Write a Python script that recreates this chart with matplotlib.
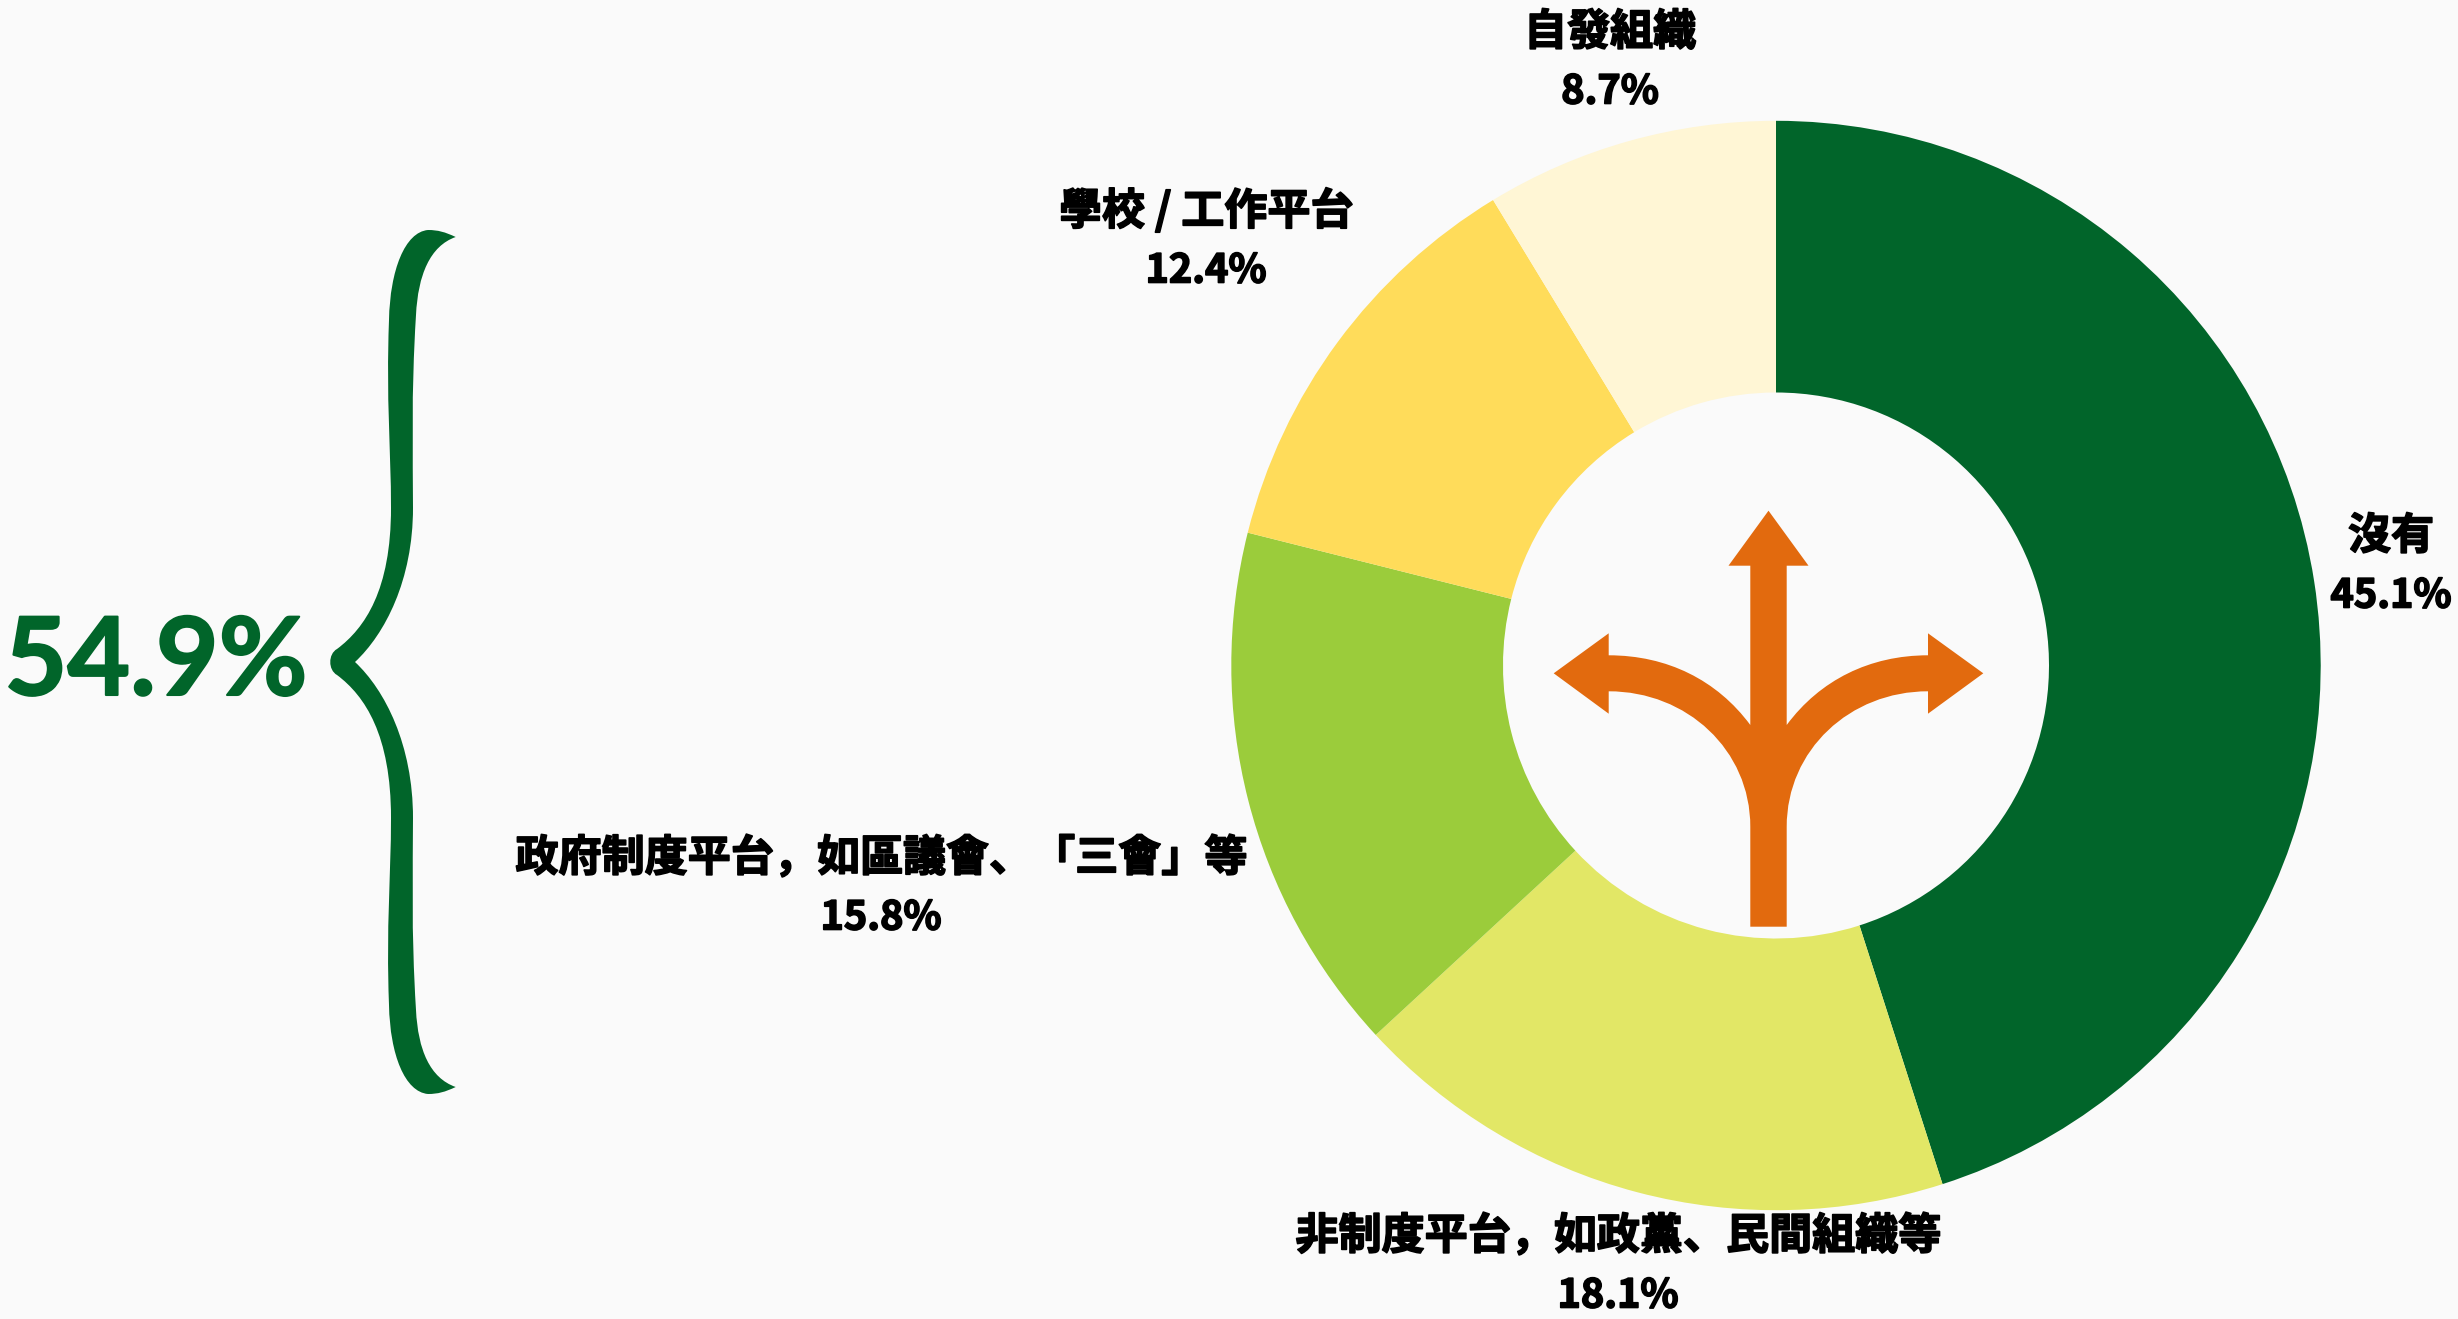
import matplotlib
matplotlib.use("Agg")
import matplotlib.pyplot as plt
from matplotlib.path import Path
from matplotlib.patches import PathPatch
import matplotlib.patheffects as pe

W, H = 2458, 1319
categories = ["沒有", "非制度平台，如政黨、民間組織等", "政府制度平台，如區議會、「三會」等", "學校 / 工作平台", "自發組織"]
values = [45.1, 18.1, 15.8, 12.4, 8.7]
colors = ["#01652A", "#E2E766", "#9BCC3B", "#FFDC5A", "#FFF6D5"]
total_label = "54.9%"
label_pos = [(2391, 536), (1618, 1236), (881, 858), (1206, 211), (1610, 32)]
BG, ORANGE, GREEN = "#FAFAFA", "#E26A0E", "#01652A"
CX, CY, R, r = 1776, 665.5, 544.7, 273

plt.rcParams['font.family'] = ['Noto Sans CJK JP', 'DejaVu Sans']
fig = plt.figure(figsize=(W/100, H/100), dpi=100, facecolor=BG)

axp = fig.add_axes([(CX-R)/W, 1-(CY+R)/H, 2*R/W, 2*R/H])
axp.pie(values, colors=colors, startangle=90, counterclock=False, radius=1,
        wedgeprops=dict(width=1-r/R, linewidth=0))
axp.set_xlim(-1, 1); axp.set_ylim(-1, 1); axp.axis("off")

ax = fig.add_axes([0, 0, 1, 1], facecolor="none")
ax.set_xlim(0, W); ax.set_ylim(H, 0); ax.axis("off")

# branching arrow icon
M, L, C, Z = Path.MOVETO, Path.LINETO, Path.CURVE4, Path.CLOSEPOLY
arrow = [(M,(1768.5,510.7)),(L,(1808.5,565.7)),(L,(1786.7,565.7)),(L,(1786.7,725)),
 (C,(1820,680)),(C,(1870,655.3)),(C,(1928,655.3)),(L,(1928,633.3)),(L,(1983.3,673.3)),(L,(1928,713.7)),(L,(1928,691.3)),
 (C,(1850,691.3)),(C,(1786.7,750)),(C,(1786.7,826.7)),(L,(1786.7,926.7)),(L,(1750.3,926.7)),(L,(1750.3,826.7)),
 (C,(1750.3,750)),(C,(1687,691.3)),(C,(1608.7,691.3)),(L,(1608.7,713.7)),(L,(1553.7,673.3)),(L,(1608.7,633.3)),(L,(1608.7,655.3)),
 (C,(1667,655.3)),(C,(1717,680)),(C,(1750.3,725)),(L,(1750.3,565.7)),(L,(1728.5,565.7)),(Z,(1768.5,510.7))]
ax.add_patch(PathPatch(Path([p for _,p in arrow],[c for c,_ in arrow]), fc=ORANGE, ec="none"))

# curly brace
brace = [(M,(455.7,237)),(C,(445,232)),(C,(438,230)),(C,(428,230)),
 (C,(405,232)),(C,(390,270)),(C,(389,320)),(C,(386,400)),(C,(391,450)),(C,(391,508)),
 (C,(391,590)),(C,(365,628)),(C,(337,649)),(C,(328,654)),(C,(328,670)),(C,(337,675)),
 (C,(365,696)),(C,(391,735)),(C,(391,818)),(C,(391,876)),(C,(386,926)),(C,(389,1005)),
 (C,(390,1055)),(C,(405,1092)),(C,(428,1094)),(C,(438,1094)),(C,(445,1092)),(C,(455.7,1087)),
 (C,(430,1078)),(C,(418,1050)),(C,(416,1010)),(C,(411,930)),(C,(413,870)),(C,(413,818)),
 (C,(413,745)),(C,(385,690)),(C,(355,662)),(C,(385,634)),(C,(413,580)),(C,(413,508)),
 (C,(413,455)),(C,(411,395)),(C,(416,315)),(C,(418,275)),(C,(430,246)),(C,(455.7,237)),(Z,(455.7,237))]
ax.add_patch(PathPatch(Path([p for _,p in brace],[c for c,_ in brace]), fc=GREEN, ec="none"))

ax.text(156, 664, total_label, color=GREEN, fontsize=78, family=['Lato', 'DejaVu Sans'],
        fontweight="bold", ha="center", va="center",
        path_effects=[pe.withStroke(linewidth=1.5, foreground=GREEN)])

stroke = [pe.withStroke(linewidth=1.2, foreground="black")]
for cat, val, (x, y) in zip(categories, values, label_pos):
    ax.text(x, y, cat, fontsize=31, fontweight="bold", color="black", ha="center", va="center", path_effects=stroke)
    ax.text(x, y+60, f"{val}%", fontsize=28.5, fontweight="bold", color="black", ha="center", va="center", path_effects=stroke)

fig.savefig("out.png", dpi=100, facecolor=BG)
